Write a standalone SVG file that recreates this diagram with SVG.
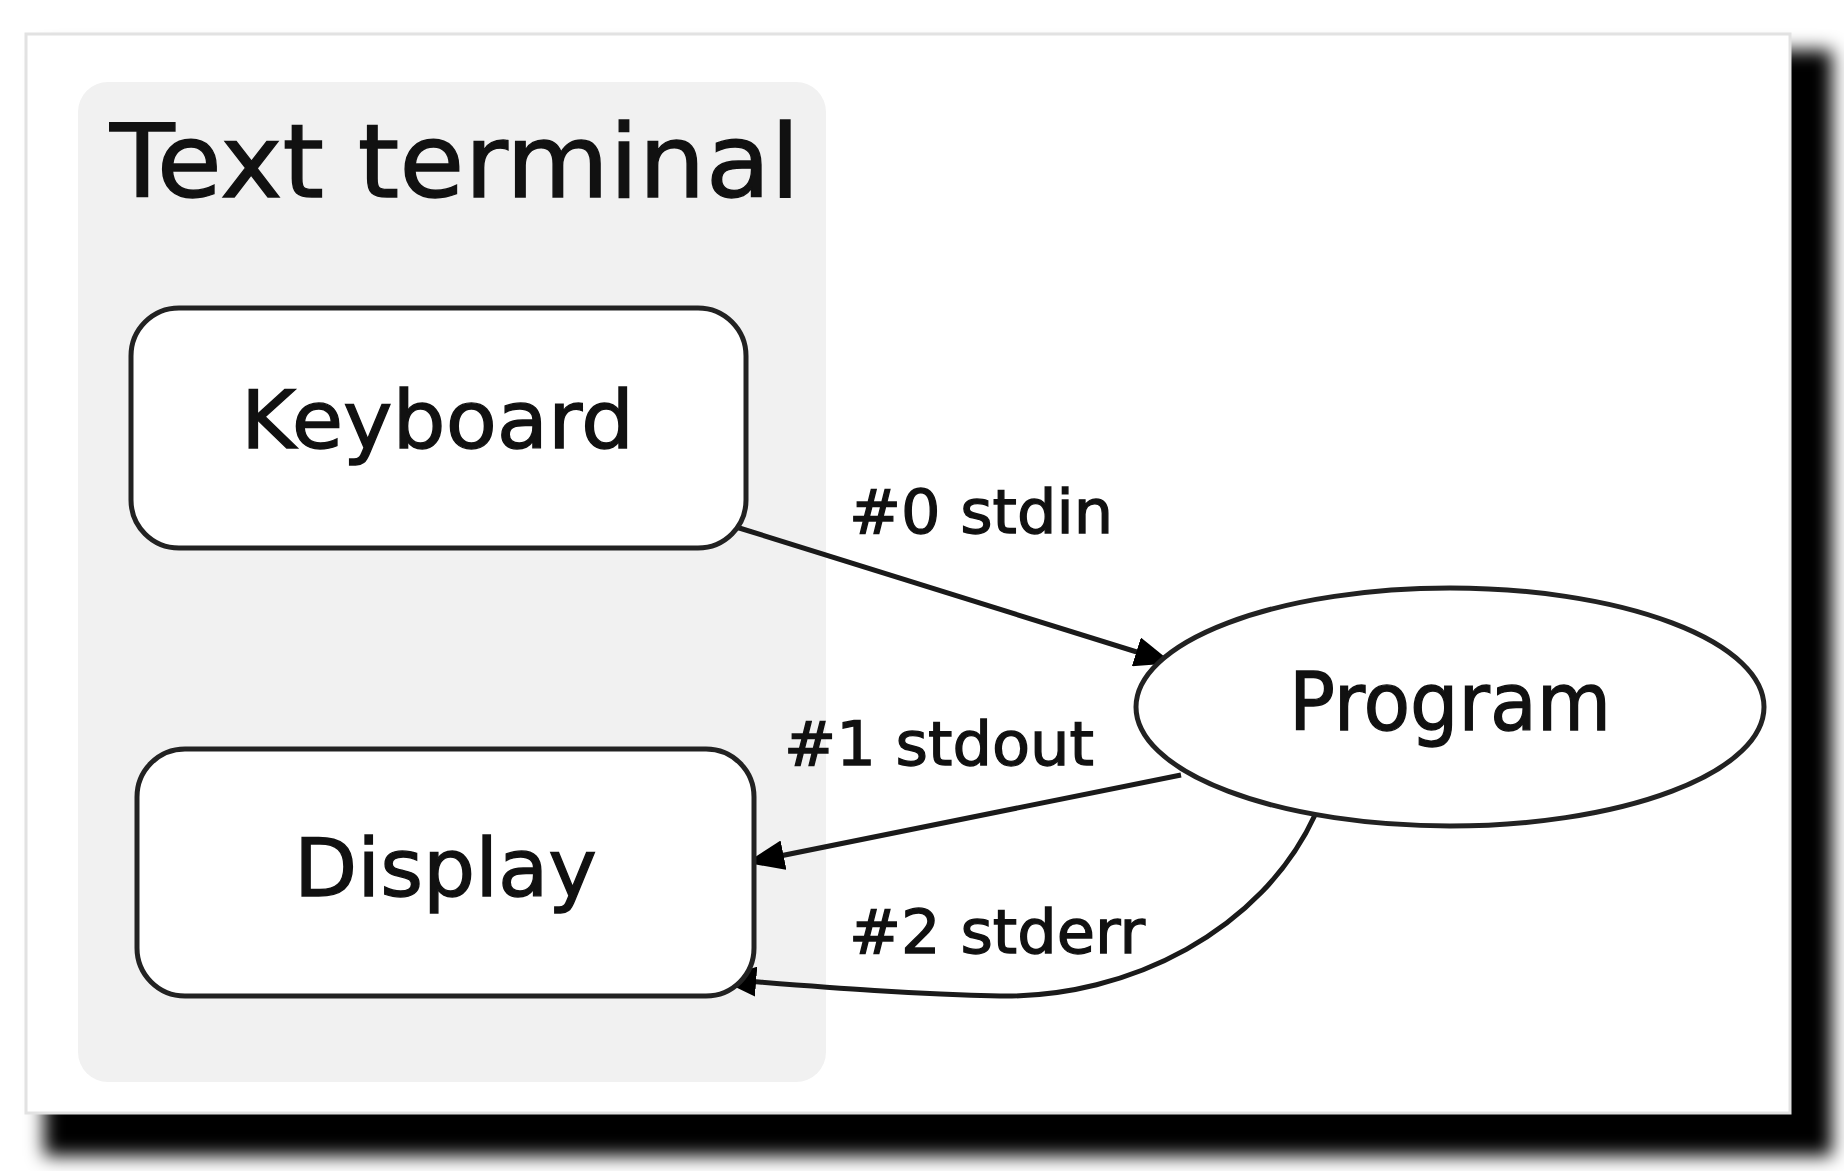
<svg xmlns="http://www.w3.org/2000/svg" width="1844" height="1171" viewBox="0 0 1844 1171">
<defs>
<filter id="blur" x="-5%" y="-5%" width="110%" height="110%"><feGaussianBlur stdDeviation="9"/></filter>
<marker id="arr" viewBox="0 0 10 10" refX="9" refY="5" markerWidth="38" markerHeight="30" markerUnits="userSpaceOnUse" orient="auto" preserveAspectRatio="none">
<path d="M0,0 L10,5 L0,10 z" fill="#000"/>
</marker>
<style>
.node{fill:#fff;stroke:#222;stroke-width:5}
.lbl{font-family:"DejaVu Sans",sans-serif;fill:#111;stroke:#111;stroke-width:1.3}
.edge{fill:none;stroke:#1a1a1a;stroke-width:5}
</style>
</defs>
<rect width="1844" height="1171" fill="#fff"/>
<g id="card">
<rect x="44" y="50" width="1788" height="1106" fill="#000" filter="url(#blur)"/>
<rect x="26" y="34" width="1764" height="1079" fill="#fff" stroke="#e2e2e2" stroke-width="3"/>
</g>
<g id="cluster">
<rect x="78" y="82" width="748" height="1000" rx="30" fill="#f1f1f1"/>
<text class="lbl" x="110" y="197" font-size="101" textLength="690" lengthAdjust="spacingAndGlyphs">Text terminal</text>
</g>
<g id="connectors">
<line class="edge" x1="736" y1="527" x2="1169" y2="662" marker-end="url(#arr)"/>
<text class="lbl" x="849" y="533" font-size="60" textLength="264" lengthAdjust="spacingAndGlyphs">#0 stdin</text>
<line class="edge" x1="1181" y1="775" x2="750" y2="862" marker-end="url(#arr)"/>
<text class="lbl" x="784" y="765" font-size="60" textLength="310" lengthAdjust="spacingAndGlyphs">#1 stdout</text>
<path class="edge" d="M1315,815 C1262,930 1130,998 1000,996 C900,994 800,985 722,979" marker-end="url(#arr)"/>
<text class="lbl" x="849" y="953" font-size="60" textLength="296" lengthAdjust="spacingAndGlyphs">#2 stderr</text>
</g>
<g id="keyboard">
<rect class="node" x="131" y="308" width="615" height="240" rx="48"/>
<text class="lbl" x="241" y="448" font-size="80" textLength="393" lengthAdjust="spacingAndGlyphs">Keyboard</text>
</g>
<g id="display">
<rect class="node" x="137" y="749" width="617" height="247" rx="48"/>
<text class="lbl" x="294" y="896" font-size="80" textLength="303" lengthAdjust="spacingAndGlyphs">Display</text>
</g>
<g id="program">
<ellipse class="node" cx="1450" cy="707" rx="314" ry="119" stroke-width="4"/>
<text class="lbl" x="1289" y="730" font-size="80" textLength="322" lengthAdjust="spacingAndGlyphs">Program</text>
</g>
</svg>
